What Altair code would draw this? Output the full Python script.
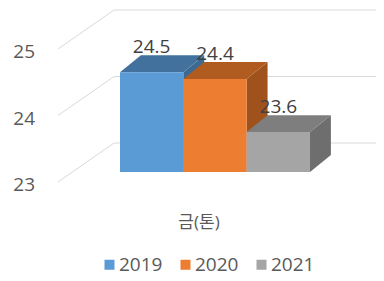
import altair as alt
import pandas as pd

years = ["2019", "2020", "2021"]
values = [24.5, 24.4, 23.6]
ticks = [23, 24, 25]
tick_labels = ["23", "24", "25"]
category = "금(톤)"
front_colors = ["#5B9BD5", "#ED7D31", "#A5A5A5"]
top_colors = ["#41719C", "#B05B20", "#7E7E7E"]
side_colors = ["#3B6A93", "#A0521C", "#6E6E6E"]

BASE = 23
DX = 0.33   # depth shift along x (in bar widths)
DV = 0.255  # depth shift along y (in value units)

bars = pd.DataFrame({
    "year": years,
    "i": [0, 1, 2],
    "i1": [1, 2, 3],
    "v": values,
    "base": [BASE] * 3,
    "lab": [f"{v:.1f}" for v in values],
    "xc": [0.5, 1.5, 2.5],
})

top_rows, side_rows = [], []
for k, (yr, v) in enumerate(zip(years, values)):
    top_rows.append({"year": yr, "y": v, "x": k, "x2": k + 1, "c": top_colors[k]})
    top_rows.append({"year": yr, "y": v + DV, "x": k + DX, "x2": k + 1 + DX, "c": top_colors[k]})
    side_rows.append({"year": yr, "x": k + 1, "y": v, "y2": BASE, "c": side_colors[k]})
    side_rows.append({"year": yr, "x": k + 1 + DX, "y": v + DV, "y2": BASE + DV, "c": side_colors[k]})
tops = pd.DataFrame(top_rows)
sides = pd.DataFrame(side_rows)
grid = pd.DataFrame({"t": ticks, "tl": tick_labels})
cat = pd.DataFrame({"cat": [category]})

W, H = 338, 269
xs = alt.Scale(domain=[0, 3], range=[82, 272], nice=False, zero=False)
ys = alt.Scale(domain=[23, 25], range=[164, 31], nice=False, zero=False)
FONT = "Open Sans, Noto Sans CJK KR"

grid_diag = alt.Chart(grid).mark_rule(color="#D9D9D9", strokeWidth=1, yOffset=10, y2Offset=-29).encode(
    x=alt.value(20), x2=alt.value(76),
    y=alt.Y("t:Q", scale=ys, axis=None), y2="t:Q")
grid_back = alt.Chart(grid).mark_rule(color="#D9D9D9", strokeWidth=1, yOffset=-29).encode(
    x=alt.value(76), x2=alt.value(W),
    y=alt.Y("t:Q", scale=ys, axis=None))
tick_text = alt.Chart(grid).mark_text(align="right", baseline="middle", dy=13, fontSize=19,
                                      color="#595959", font=FONT).encode(
    x=alt.value(-3),
    y=alt.Y("t:Q", scale=ys, axis=None),
    text="tl:N")

side_layer = alt.Chart(sides).mark_area(orient="vertical").encode(
    x=alt.X("x:Q", scale=xs, axis=None, stack=None),
    y=alt.Y("y:Q", scale=ys, axis=None, stack=None), y2="y2:Q",
    detail="year:N",
    color=alt.Color("c:N", scale=None))

top_layer = alt.Chart(tops).mark_area(orient="horizontal").encode(
    y=alt.Y("y:Q", scale=ys, axis=None, stack=None),
    x=alt.X("x:Q", scale=xs, axis=None, stack=None), x2="x2:Q",
    detail="year:N",
    color=alt.Color("c:N", scale=None))

front_layer = alt.Chart(bars).mark_rect().encode(
    x=alt.X("i:Q", scale=xs, axis=None), x2="i1:Q",
    y=alt.Y("v:Q", scale=ys, axis=None),
    y2="base:Q",
    color=alt.Color("year:N", scale=alt.Scale(domain=years, range=front_colors),
                    legend=alt.Legend(orient="none", legendX=62, legendY=247, direction="horizontal",
                                      title=None, symbolType="square", symbolSize=100,
                                      symbolStrokeWidth=0, labelFontSize=19, labelColor="#595959",
                                      labelFont=FONT, labelOffset=0, columnPadding=13)))

labels = alt.Chart(bars).mark_text(dy=-25, fontSize=19, color="#404040", font=FONT).encode(
    x=alt.X("xc:Q", scale=xs, axis=None),
    y=alt.Y("v:Q", scale=ys, axis=None),
    text="lab:N")

cat_label = alt.Chart(cat).mark_text(fontSize=17, color="#595959", font=FONT, baseline="middle").encode(
    x=alt.value(161), y=alt.value(215), text="cat:N")

chart = alt.layer(grid_diag, grid_back, tick_text, side_layer, top_layer, front_layer, labels, cat_label).properties(
    width=W, height=H, autosize="none",
    padding={"left": 30, "top": 0, "right": 0, "bottom": 0},
).configure(background="white").configure_view(stroke=None)

chart.save("out.html", embed_options={"renderer": "svg", "actions": False})
